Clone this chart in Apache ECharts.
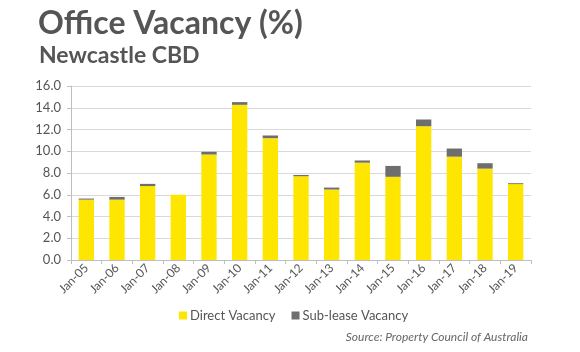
<!DOCTYPE html>
<html>
<head>
<meta charset="utf-8">
<script src="https://cdn.jsdelivr.net/npm/echarts@6/dist/echarts.min.js"></script>
<style>
  html, body { margin: 0; padding: 0; background: #fff; }
  #chart { width: 580px; height: 352px; }
</style>
</head>
<body>
<div id="chart"></div>
<script>
var categories = ["Jan-05", "Jan-06", "Jan-07", "Jan-08", "Jan-09", "Jan-10", "Jan-11", "Jan-12",
                  "Jan-13", "Jan-14", "Jan-15", "Jan-16", "Jan-17", "Jan-18", "Jan-19"];
var directVacancy = [5.55, 5.55, 6.8, 6.0, 9.7, 14.27, 11.2, 7.7, 6.48, 8.95, 7.65, 12.3, 9.5, 8.4, 6.98];
var subleaseVacancy = [0.1, 0.25, 0.2, 0.0, 0.25, 0.25, 0.25, 0.12, 0.18, 0.2, 1.0, 0.62, 0.75, 0.5, 0.08];
var yTicks = [0, 2, 4, 6, 8, 10, 12, 14, 16];

var chart = echarts.init(document.getElementById("chart"));

var option = {
    animation: false,
    textStyle: { fontFamily: "Lato" },
    title: [
        {
            text: "Office Vacancy (%)",
            left: 33, top: 3,
            textStyle: { fontFamily: "Lato", fontSize: 32, fontWeight: "bold", color: "#555555" }
        },
        {
            text: "Newcastle CBD",
            left: 34, top: 39,
            textStyle: { fontFamily: "Lato", fontSize: 23, fontWeight: "bold", color: "#555555" }
        },
        {
            text: "Source: Property Council of Australia",
            right: 47, top: 326,
            textStyle: { fontFamily: "Lato", fontSize: 12, fontStyle: "italic", fontWeight: "normal", color: "#666666" }
        }
    ],
    legend: {
        data: ["Direct Vacancy", "Sub-lease Vacancy"],
        left: 174, top: 304,
        itemWidth: 8, itemHeight: 8,
        itemGap: 16,
        icon: "rect",
        textStyle: { fontFamily: "Lato", fontSize: 13, color: "#555555", padding: [0, 0, 0, -2] }
    },
    grid: { left: 71, right: 49, top: 86, bottom: 92 },
    xAxis: {
        type: "category",
        data: categories,
        axisLine: { lineStyle: { color: "#bfbfbf" } },
        axisTick: { show: true, alignWithLabel: false, length: 4, lineStyle: { color: "#bfbfbf" } },
        axisLabel: { rotate: 45, fontSize: 12, color: "#555555", margin: 6, fontFamily: "Lato" }
    },
    yAxis: {
        type: "value",
        min: yTicks[0],
        max: yTicks[yTicks.length - 1],
        interval: 2,
        axisLine: { show: true, lineStyle: { color: "#bfbfbf" } },
        axisTick: { show: true, length: 4, lineStyle: { color: "#bfbfbf" } },
        splitLine: { lineStyle: { color: "#d9d9d9" } },
        axisLabel: {
            fontSize: 13, color: "#555555", margin: 10, fontFamily: "Lato",
            formatter: function (v) { return v.toFixed(1); }
        }
    },
    series: [
        {
            name: "Direct Vacancy",
            type: "bar",
            stack: "vac",
            barWidth: "50%",
            itemStyle: { color: "#ffe600" },
            data: directVacancy
        },
        {
            name: "Sub-lease Vacancy",
            type: "bar",
            stack: "vac",
            barWidth: "50%",
            itemStyle: { color: "#6e6e6e" },
            data: subleaseVacancy
        }
    ]
};

chart.setOption(option);
</script>
</body>
</html>
